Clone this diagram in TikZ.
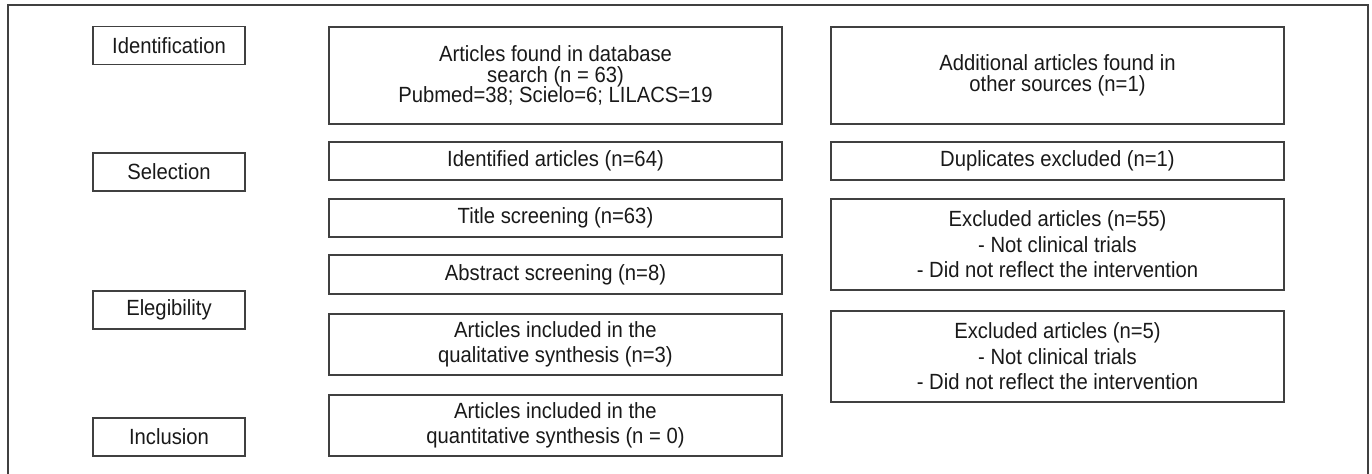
\documentclass[tikz,border=0pt]{standalone}
\usepackage{fontspec}
\setmainfont{Liberation Sans}[FakeStretch=0.92]
\begin{document}
\begin{tikzpicture}[x=0.5pt, y=-0.5pt,
  stage/.style={draw=black!75, line width=0.6pt, minimum width=76pt, minimum height=19pt,
    inner sep=0pt, text=black!90, font=\fontsize{11}{12}\selectfont},
  stepbox/.style={draw=black!75, line width=0.6pt, minimum width=226.5pt, inner sep=0pt,
    align=center, text=black!90, font=\fontsize{11}{12.8}\selectfont},
  tight/.style={font=\fontsize{11}{10.3}\selectfont}]
\useasboundingbox (0,0) rectangle (1372,474);
% outer frame, open at the bottom
\draw[black!75, line width=0.6pt] (8,474) -- (8,5) -- (1368,5) -- (1368,474);
% stages on the left
\node[stage] (ident) at (169,45.5) {Identification};
\node[stage] (sel)   at (169,172)  {Selection};
\node[stage] (elig)  at (169,310)  {Elegibility};
\node[stage] (incl)  at (169,437)  {Inclusion};
% main column
\node[stepbox, tight, minimum height=48.5pt] (found)      at (555.5,75.5)
  {Articles found in database\\search (n = 63)\\Pubmed=38; Scielo=6; LILACS=19};
\node[stepbox, minimum height=19pt]   (identified) at (555.5,161)   {Identified articles (n=64)};
\node[stepbox, minimum height=19pt]   (title)      at (555.5,218)   {Title screening (n=63)};
\node[stepbox, minimum height=19.5pt] (abstract)   at (555.5,274.5) {Abstract screening (n=8)};
\node[stepbox, minimum height=30.5pt] (qualit)     at (555.5,344.5)
  {Articles included in the\\qualitative synthesis (n=3)};
\node[stepbox, minimum height=30.5pt] (quantit)    at (555.5,425.5)
  {Articles included in the\\quantitative synthesis (n = 0)};
% side column
\node[stepbox, tight, minimum height=48.5pt] (additional) at (1057.5,75.5)
  {Additional articles found in\\other sources (n=1)};
\node[stepbox, minimum height=19pt]   (dupl)   at (1057.5,161)   {Duplicates excluded (n=1)};
\node[stepbox, minimum height=45.5pt] (exclA)  at (1057.5,244.5)
  {Excluded articles (n=55)\\- Not clinical trials\\- Did not reflect the intervention};
\node[stepbox, minimum height=45.5pt] (exclB)  at (1057.5,356.5)
  {Excluded articles (n=5)\\- Not clinical trials\\- Did not reflect the intervention};
\end{tikzpicture}
\end{document}
